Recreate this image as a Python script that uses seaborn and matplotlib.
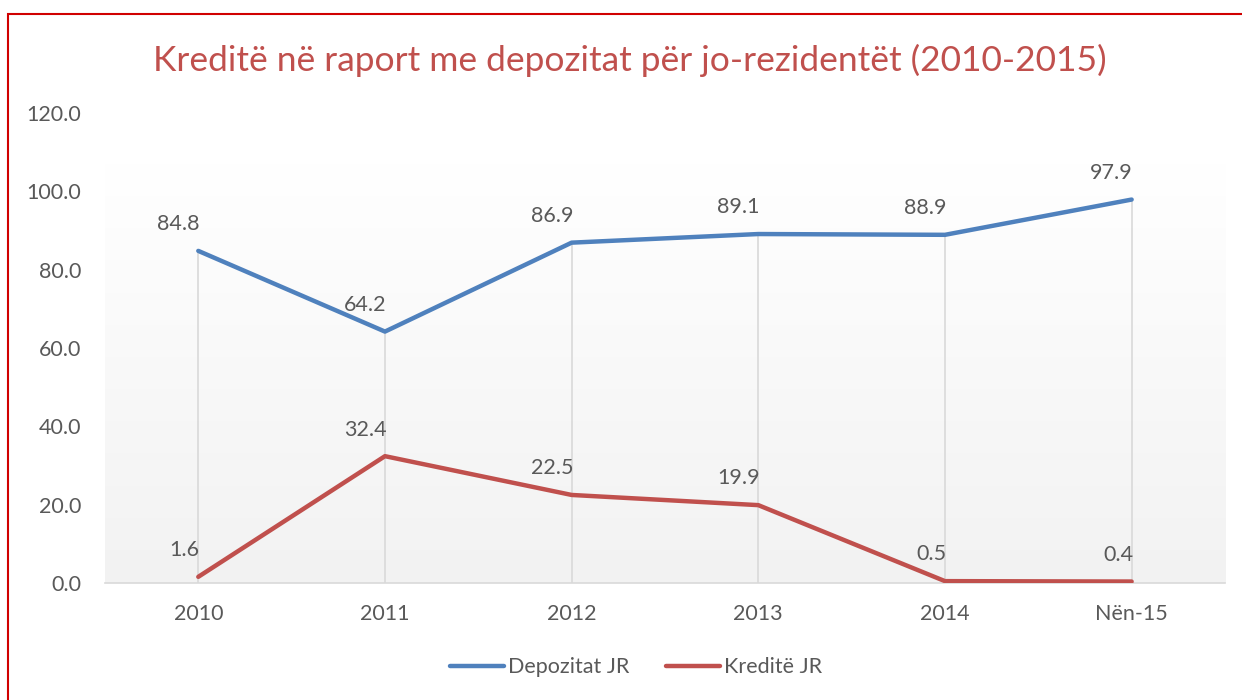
import numpy as np
import pandas as pd
import matplotlib
matplotlib.use("Agg")
import matplotlib.pyplot as plt
from matplotlib.lines import Line2D
from matplotlib.patches import Rectangle
from matplotlib.colors import LinearSegmentedColormap
import seaborn as sns

years = ['2010', '2011', '2012', '2013', '2014', 'Nën-15']
depozitat = [84.8, 64.2, 86.9, 89.1, 88.9, 97.9]
kredite = [1.6, 32.4, 22.5, 19.9, 0.5, 0.4]
series_names = ['Depozitat JR', 'Kreditë JR']
colors = ['#4F81BD', '#C0504D']

title = "Kreditë në raport me depozitat për jo-rezidentët (2010-2015)"
text_color = '#595959'

sns.set_theme(style='white')
plt.rcParams['font.family'] = ['Lato', 'DejaVu Sans']

df = pd.DataFrame({
    'pos': list(range(len(years))) * 2,
    'value': depozitat + kredite,
    'series': [series_names[0]] * len(years) + [series_names[1]] * len(years),
})

fig = plt.figure(figsize=(12.42, 7.0), dpi=100)
ax = fig.add_axes([0.0845, 0.167, 0.9018, 0.6716])

# gradient plot area (white at top, light grey at bottom)
grad_cmap = LinearSegmentedColormap.from_list('g', ['#F2F2F2', '#FFFFFF'])
grad = np.linspace(0, 1, 256).reshape(-1, 1)
ax.imshow(grad, cmap=grad_cmap, aspect='auto', origin='lower',
          extent=[-0.5, len(years) - 0.5, 0, 107], zorder=0)

# drop lines from the highest point to the axis
for i in range(len(years)):
    top = max(depozitat[i], kredite[i])
    ax.plot([i, i], [0, top], color='#D9D9D9', lw=1.2, zorder=1)

sns.lineplot(data=df, x='pos', y='value', hue='series', palette=colors,
             linewidth=3.2, sort=False, legend=False, ax=ax, zorder=3)

for vals in (depozitat, kredite):
    for i, v in enumerate(vals):
        ax.annotate(f"{v:.1f}", (i, v), xytext=(1, 12), textcoords='offset points',
                    ha='right', va='bottom', fontsize=15.5, color=text_color)

ax.set_xlim(-0.5, len(years) - 0.5)
ax.set_ylim(0, 120)
ax.set_yticks(np.arange(0, 121, 20))
ax.set_yticklabels([f"{t:.1f}" for t in np.arange(0, 121, 20)])
ax.set_xticks(range(len(years)))
ax.set_xticklabels(years)
ax.tick_params(axis='both', length=0, labelsize=15.5, labelcolor=text_color)
ax.tick_params(axis='y', pad=17)
ax.tick_params(axis='x', pad=15)
ax.set_xlabel('')
ax.set_ylabel('')
for side in ['top', 'right', 'left']:
    ax.spines[side].set_visible(False)
ax.spines['bottom'].set_color('#D9D9D9')
ax.spines['bottom'].set_linewidth(1.2)

fig.suptitle(title, x=0.507, y=0.937, fontsize=25.5, color='#C0504D')

handles = [Line2D([], [], color=c, lw=3.2, solid_capstyle='round') for c in colors]
leg = fig.legend(handles, series_names, loc='center', bbox_to_anchor=(0.512, 0.047),
                 ncol=2, frameon=False, fontsize=15.5, handlelength=2.5,
                 columnspacing=1.7, handletextpad=0.2)
for t in leg.get_texts():
    t.set_color(text_color)

# red frame (left and top edges visible)
fig.patches.append(Rectangle((8 / 1242, -0.05), 1.2, 1 - 14 / 700 + 0.05,
                             transform=fig.transFigure, fill=False,
                             edgecolor='#D00000', lw=1.5, clip_on=False))

fig.savefig('out.png', dpi=100)
